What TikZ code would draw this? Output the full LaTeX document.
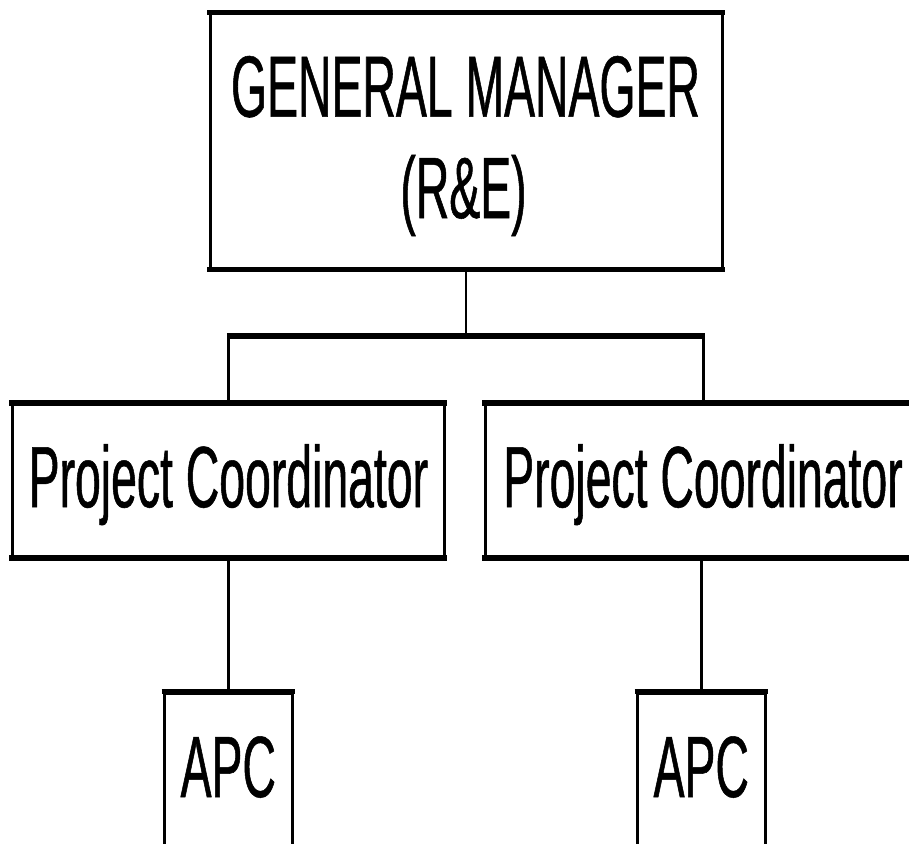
\documentclass[tikz,border=0pt]{standalone}
\usepackage{fontspec}
\newfontfamily\narrowsans{Liberation Sans}[FakeStretch=0.533,FakeBold=0.6]
\begin{document}
\begin{tikzpicture}[x=1pt,y=-1pt,
  orgfont/.style={font=\narrowsans\fontsize{87pt}{104pt}\selectfont},
  box/.style={draw, line width=3pt, inner sep=0pt, orgfont, text height=59pt},
  txt/.style={inner sep=0pt, orgfont, anchor=base},
  hedge/.style={line width=5.5pt, shorten <=-1.5pt, shorten >=-1.5pt},
  vline/.style={line width=3pt}]
\path[use as bounding box] (0,0) rectangle (909,843);
\clip (0,0) rectangle (909,843);

% boxes
\node[box, minimum width=512pt, minimum height=254pt] (gm) at (466,141) {};
\node[txt] (gmtop) at (465.5,116.7) {GENERAL MANAGER};
\node[txt] (gmbot) at (463.5,218) {(R\&E)};

\node[box, minimum width=432pt, minimum height=152.3pt, text depth=5.5pt] (pc1) at (228.4,480.4) {Project Coordinator};
\node[box, minimum width=436pt, minimum height=152.3pt, text depth=5.5pt] (pc2) at (703,480.4) {Project Coordinator};

\node[box, minimum width=127.5pt, minimum height=180pt, text depth=31pt] (apc1) at (228.25,783) {APC};
\node[box, minimum width=127.5pt, minimum height=180pt, text depth=31pt] (apc2) at (701.25,783) {APC};

% heavier horizontal edges
\foreach \n in {gm,pc1,pc2,apc1,apc2}
  \draw[hedge] (\n.north west) -- (\n.north east);
\foreach \n in {gm,pc1,pc2}
  \draw[hedge] (\n.south west) -- (\n.south east);

% connectors
\coordinate (bus) at (466,336);
\draw[vline, line width=2.5pt] (gm.south) -- (gm.south |- bus);
\draw[hedge] (pc1.north |- bus) -- (pc2.north |- bus);
\draw[vline] (pc1.north |- bus) -- (pc1.north);
\draw[vline] (pc2.north |- bus) -- (pc2.north);
\draw[vline] (pc1.south) -- (pc1.south |- apc1.north);
\draw[vline] (apc2.north |- pc2.south) -- (apc2.north);
\end{tikzpicture}
\end{document}
